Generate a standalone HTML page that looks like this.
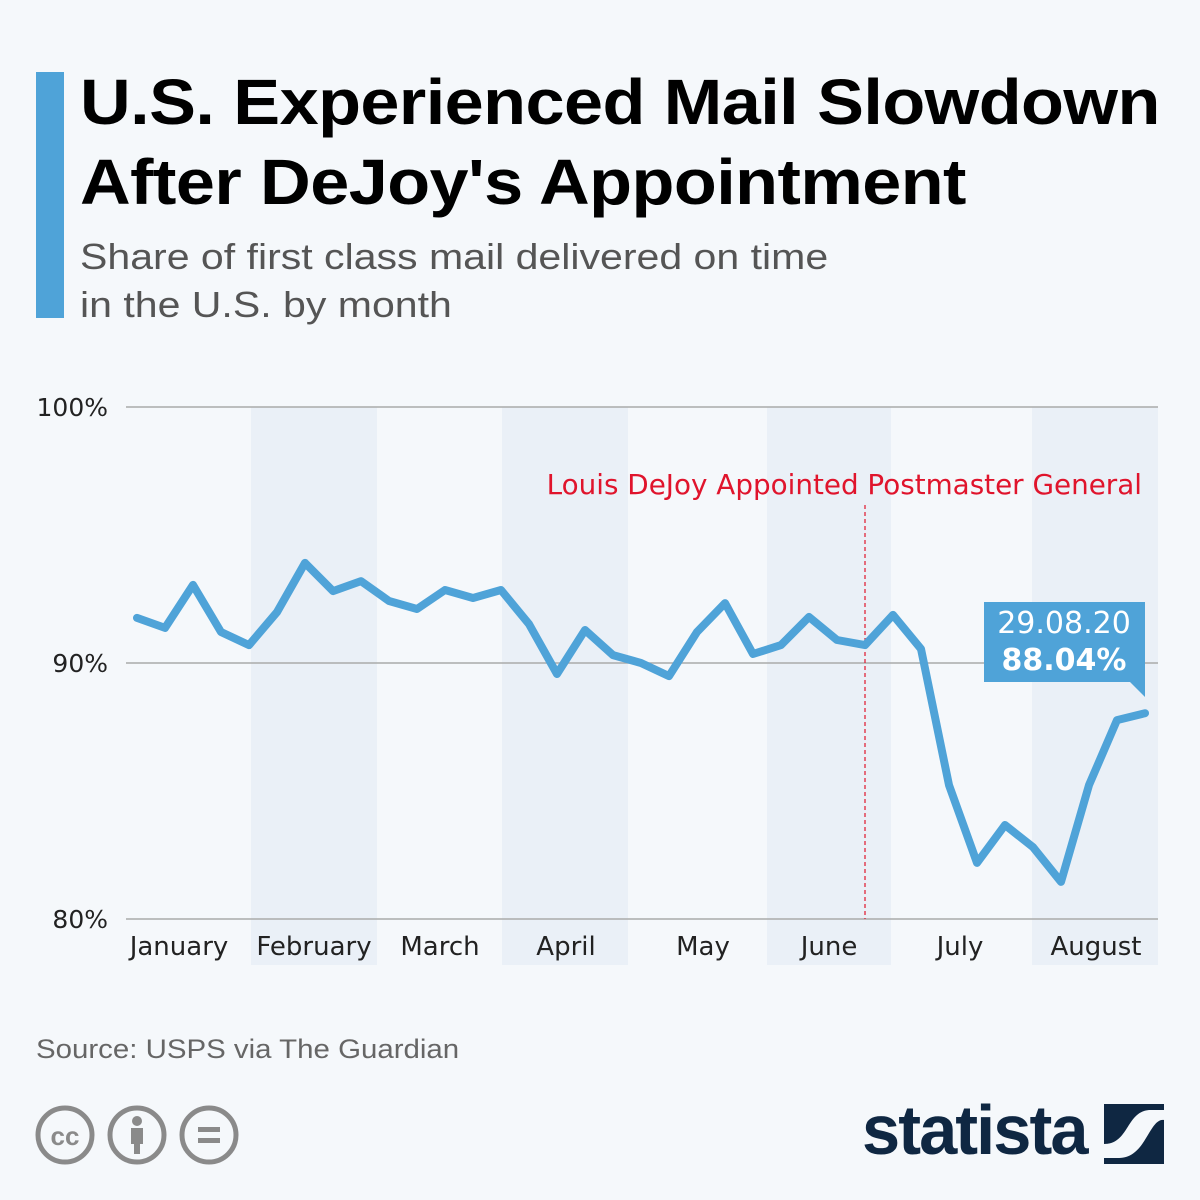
<!DOCTYPE html>
<html><head><meta charset="utf-8">
<style>
body{margin:0;background:#f5f8fb;font-family:"DejaVu Sans",sans-serif;}
#wrap{position:relative;width:1200px;height:1200px;overflow:hidden;background:#f5f8fb;}
.t{position:absolute;white-space:nowrap;}
</style></head>
<body>
<div id="wrap">
<div class="t" style="left:36px;top:72px;width:28px;height:246px;background:#4fa3d8;"></div>
<div class="t" style="left:80px;top:62px;font-family:'Liberation Sans',sans-serif;font-size:64px;font-weight:bold;line-height:80px;color:#000;letter-spacing:-0.5px;transform:scaleX(1.097);transform-origin:left;">U.S. Experienced Mail Slowdown<br>After DeJoy's Appointment</div>
<div class="t" style="left:80px;top:233px;font-family:'Liberation Sans',sans-serif;font-size:36px;line-height:48px;color:#555;transform:scaleX(1.14);transform-origin:left;">Share of first class mail delivered on time<br>in the U.S. by month</div>
<svg id="chart" width="1200" height="1200" style="position:absolute;left:0;top:0;"></svg>
<div class="t" style="left:36px;top:1034px;font-family:'Liberation Sans',sans-serif;font-size:27px;color:#666;transform:scaleX(1.09);transform-origin:left;">Source: USPS via The Guardian</div>
<svg class="t" style="left:34px;top:1104px" width="210" height="64">
<g fill="none" stroke="#8a8a8a" stroke-width="5"><circle cx="31" cy="31" r="27"/><circle cx="103" cy="31" r="27"/><circle cx="175" cy="31" r="27"/></g>
<text x="31" y="41" text-anchor="middle" font-size="26" font-weight="bold" fill="#8a8a8a" font-family="Liberation Sans">cc</text>
<circle cx="103" cy="17" r="5" fill="#8a8a8a"/><rect x="97" y="24" width="12" height="16" fill="#8a8a8a"/><rect x="100" y="38" width="6" height="12" fill="#8a8a8a"/>
<rect x="164" y="23" width="22" height="5" fill="#8a8a8a"/><rect x="164" y="34" width="22" height="5" fill="#8a8a8a"/>
</svg>
<div class="t" style="left:862px;top:1090px;font-family:'Liberation Sans',sans-serif;font-size:70px;font-weight:bold;color:#0f2742;letter-spacing:-2px;transform:scaleX(0.98);transform-origin:left;">statista</div>
<svg class="t" style="left:1104px;top:1104px" width="60" height="60"><rect width="60" height="60" fill="#0f2742"/><path d="M0 40 C25 40 22 8 45 6 L60 6 L60 16 C45 14 42 54 15 54 L0 54Z" fill="#f5f8fb"/></svg>
</div>
<script>
const monthLabels=["January","February","March","April","May","June","July","August"];
const monthCenters=[179,314,440,566,703,829,960,1096];
const yTicks=[100,90,80];
const yTickLabels=["100%","90%","80%"];
const values=[91.76,91.37,93.05,91.21,90.70,91.99,93.91,92.81,93.20,92.42,92.11,92.85,92.54,92.85,91.52,89.57,91.29,90.31,90.0,89.49,91.21,92.34,90.35,90.70,91.80,90.90,90.70,91.88,90.55,85.23,82.19,83.67,82.81,81.45,85.23,87.77,88.04];
const eventIndex=26.0;
const lastLabelDate="29.08.20";
const lastLabelValue="88.04%";

const svg=document.getElementById('chart');
const NS='http://www.w3.org/2000/svg';
const x0=137,x1=1145,yTop=407,yBot=919;
const FF='DejaVu Sans';
function xs(i){return x0+(x1-x0)*i/(values.length-1);}
function ys(v){return yBot-(v-80)/20*(yBot-yTop);}
function mk(t,a){const e=document.createElementNS(NS,t);for(const k in a)e.setAttribute(k,a[k]);svg.appendChild(e);return e;}
const bands=[[251,377],[502,628],[767,891],[1032,1158]];
bands.forEach(b=>{const r=mk('rect',{x:b[0],y:yTop,width:b[1]-b[0],height:965-yTop,fill:'#eaf0f7'});

});
yTicks.forEach((v,i)=>{const l=mk('line',{x1:126,x2:1158,y1:ys(v),y2:ys(v),stroke:'#aaa','stroke-width':1.5});


const t=mk('text',{x:108,y:ys(v)+9,'text-anchor':'end','font-size':25,fill:'#222','font-family':FF});t.textContent=yTickLabels[i];

});
monthLabels.forEach((m,i)=>{const t=mk('text',{x:monthCenters[i],y:955,'text-anchor':'middle','font-size':26,fill:'#222','font-family':FF});t.textContent=m;

});
const ex=xs(eventIndex);
const dl=mk('line',{x1:ex,x2:ex,y1:505,y2:yBot,stroke:'#e0142c','stroke-width':1.2,'stroke-dasharray':'4,3'});


const et=mk('text',{x:1142,y:494,'text-anchor':'end','font-size':27.8,fill:'#e0142c','font-family':FF});et.textContent='Louis DeJoy Appointed Postmaster General';


const pts=values.map((v,i)=>xs(i).toFixed(1)+','+ys(v).toFixed(1)).join(' ');
const pl=mk('polyline',{points:pts,fill:'none',stroke:'#4fa3d8','stroke-width':8,'stroke-linejoin':'round','stroke-linecap':'round'});


const lx=xs(values.length-1);
const cb=mk('path',{d:`M984 602 H${lx} V697 L${lx-15} 682 H984 Z`,fill:'#4fa3d8'});


const c1=mk('text',{x:1064,y:633,'text-anchor':'middle','font-size':30,fill:'#fff','font-family':FF});c1.textContent=lastLabelDate;


const c2=mk('text',{x:1064,y:670,'text-anchor':'middle','font-size':30,'font-weight':'bold',fill:'#fff','font-family':FF});c2.textContent=lastLabelValue;


</script>
</body></html>
